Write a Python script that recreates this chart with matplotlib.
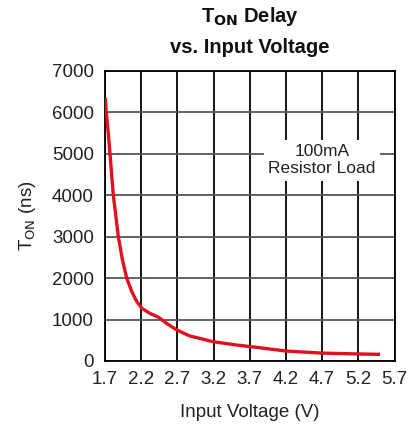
import matplotlib
matplotlib.use("Agg")
import matplotlib.pyplot as plt

plt.rcParams['font.family'] = ['Liberation Sans', 'DejaVu Sans']

voltage = [1.705, 1.718, 1.745, 1.769, 1.815, 1.884, 1.94, 2.0, 2.07, 2.14, 2.21,
           2.32, 2.44, 2.55, 2.69, 2.87, 3.19, 3.52, 3.79, 4.2, 4.7, 5.2, 5.5]
t_on = [6350, 6000, 5500, 5000, 4000, 3000, 2450, 2000, 1675, 1430, 1270,
        1150, 1055, 910, 750, 605, 467, 385, 330, 240, 190, 170, 160]

x_ticks = [1.7, 2.2, 2.7, 3.2, 3.7, 4.2, 4.7, 5.2, 5.7]
y_ticks = [0, 1000, 2000, 3000, 4000, 5000, 6000, 7000]

fig = plt.figure(figsize=(4.19, 4.25), dpi=100)
ax = fig.add_axes([0.2506, 0.1506, 0.691, 0.6824])

ax.set_xlim(1.7, 5.7)
ax.set_ylim(0, 7000)
ax.set_xticks(x_ticks)
ax.set_yticks(y_ticks)
ax.set_xticklabels([f"{v:.1f}" for v in x_ticks])
ax.set_yticklabels([str(v) for v in y_ticks])

for v in x_ticks:
    ax.axvline(v, color='black', lw=1.3, zorder=1)
for v in y_ticks:
    ax.axhline(v, color='#555555', lw=1.3, zorder=1)

ax.plot(voltage, t_on, color='#e0101e', lw=2.4, zorder=3,
        solid_joinstyle='round', solid_capstyle='butt')

ax.text(4.7, 4850, "100mA\nResistor Load", ha='center', va='center', fontsize=12.5,
        color='#222222', linespacing=1.2, zorder=4,
        bbox=dict(boxstyle='square,pad=0.25', fc='white', ec='none'))

for s in ax.spines.values():
    s.set_color('black')
    s.set_linewidth(1.3)

ax.tick_params(length=0, labelsize=13.5, colors='#222222')
ax.tick_params(axis='x', pad=7)
ax.tick_params(axis='y', pad=8)

fig.text(0.597, 0.960, r"T$_{\mathbf{ON}}$ Delay", ha='center', va='center',
         fontsize=14.5, fontweight='bold', color='#111111')
fig.text(0.597, 0.889, "vs. Input Voltage", ha='center', va='center',
         fontsize=14.5, fontweight='bold', color='#111111')

ax.set_xlabel("Input Voltage (V)", fontsize=13.5, color='#222222', labelpad=12)
ax.set_ylabel(r"T$_{\mathrm{ON}}$ (ns)", fontsize=13.5, color='#222222', labelpad=10)

fig.savefig("out.png", dpi=100)
